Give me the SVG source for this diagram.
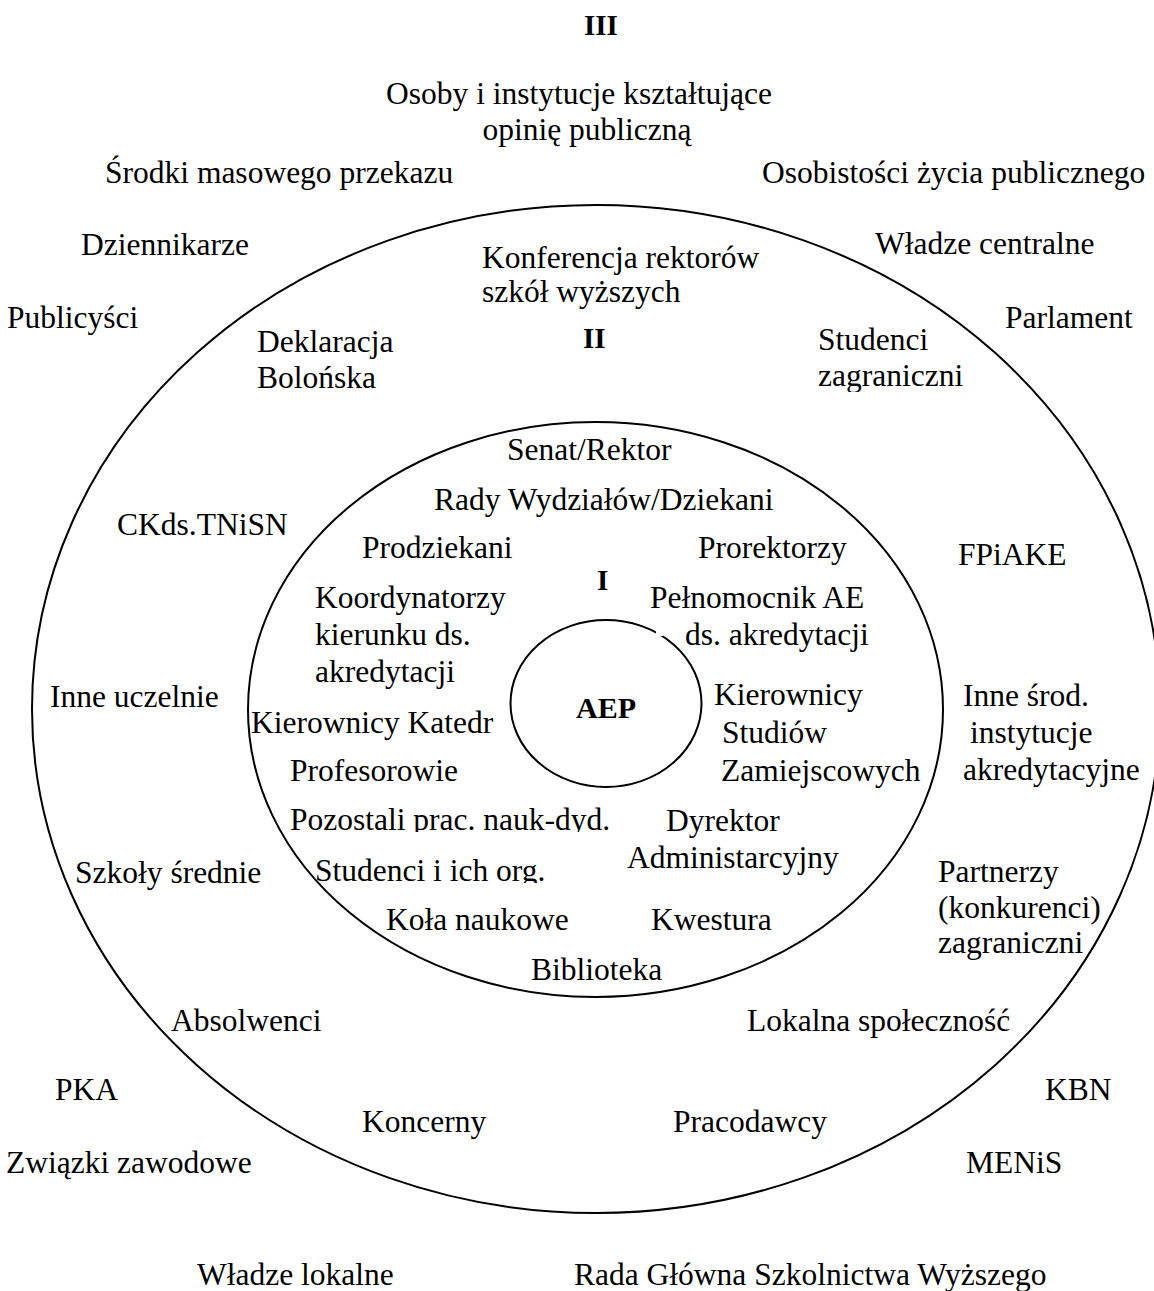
<svg xmlns="http://www.w3.org/2000/svg" width="1154" height="1291" viewBox="0 0 1154 1291">
<style>
  text { font-family: "Liberation Serif", "Times New Roman", serif; font-size: 31.5px; fill: #000; }
  .b { font-weight: bold; font-size: 29px; }
  .aep { font-weight: bold; font-size: 30px; }
  .ring { fill: none; stroke: #000; stroke-width: 2; }
</style>
<defs>
  <clipPath id="clipZag"><rect x="800" y="360" width="200" height="32"/></clipPath>
  <clipPath id="clipPoz"><rect x="280" y="800" width="350" height="32"/></clipPath>
  <clipPath id="clipStud"><rect x="300" y="850" width="260" height="33"/></clipPath>
</defs>
<rect width="1154" height="1291" fill="#fff"/>
<g id="rings">
  <ellipse class="ring" cx="596" cy="709" rx="564" ry="504"/>
  <ellipse class="ring" cx="595.5" cy="709.5" rx="347.5" ry="287.5"/>
  <ellipse class="ring" cx="606" cy="703.5" rx="95.5" ry="83.5"/>
  <rect x="656" y="627" width="7" height="9" fill="#fff"/>
</g>
<g id="connectors"></g>
<!-- Zone III -->
<g id="label-III"><text class="b" x="584" y="35">III</text></g>
<g id="osoby"><text x="579" y="104" text-anchor="middle">Osoby i instytucje kształtujące<tspan x="587" y="140">opinię publiczną</tspan></text></g>
<g id="srodki"><text x="105" y="183">Środki masowego przekazu</text></g>
<g id="osobistosci"><text x="762" y="183">Osobistości życia publicznego</text></g>
<g id="dziennikarze"><text x="81" y="255">Dziennikarze</text></g>
<g id="wladze-centralne"><text x="875" y="254">Władze centralne</text></g>
<g id="publicysci"><text x="7" y="328">Publicyści</text></g>
<g id="parlament"><text x="1005" y="328">Parlament</text></g>
<g id="pka"><text x="55" y="1100">PKA</text></g>
<g id="kbn"><text x="1045" y="1100">KBN</text></g>
<g id="zwiazki"><text x="6" y="1173">Związki zawodowe</text></g>
<g id="menis"><text x="966" y="1173">MENiS</text></g>
<g id="wladze-lokalne"><text x="197" y="1285">Władze lokalne</text></g>
<g id="rada-glowna"><text x="574" y="1285">Rada Główna Szkolnictwa Wyższego</text></g>
<!-- Zone II -->
<g id="konferencja"><text x="482" y="268">Konferencja rektorów<tspan x="482" y="302">szkół wyższych</tspan></text></g>
<g id="label-II"><text class="b" x="583" y="348">II</text></g>
<g id="deklaracja"><text x="257" y="352">Deklaracja<tspan x="257" y="388">Bolońska</tspan></text></g>
<g id="studenci-zagr"><text x="818" y="350">Studenci</text><text x="818" y="386" clip-path="url(#clipZag)">zagraniczni</text></g>
<g id="ckds"><text x="117" y="535">CKds.TNiSN</text></g>
<g id="fpiake"><text x="958" y="565">FPiAKE</text></g>
<g id="inne-uczelnie"><text x="50" y="707">Inne uczelnie</text></g>
<g id="inne-srod"><text x="963" y="706">Inne środ.<tspan x="970" y="743">instytucje</tspan><tspan x="963" y="780">akredytacyjne</tspan></text></g>
<g id="szkoly"><text x="75" y="883">Szkoły średnie</text></g>
<g id="partnerzy"><text x="938" y="882">Partnerzy<tspan x="938" y="918">(konkurenci)</tspan><tspan x="938" y="953">zagraniczni</tspan></text></g>
<g id="absolwenci"><text x="171" y="1031">Absolwenci</text></g>
<g id="lokalna"><text x="747" y="1031">Lokalna społeczność</text></g>
<g id="koncerny"><text x="362" y="1132">Koncerny</text></g>
<g id="pracodawcy"><text x="673" y="1132">Pracodawcy</text></g>
<!-- Zone I -->
<g id="senat"><text x="507" y="460">Senat/Rektor</text></g>
<g id="rady"><text x="434" y="510">Rady Wydziałów/Dziekani</text></g>
<g id="prodziekani"><text x="362" y="558">Prodziekani</text></g>
<g id="prorektorzy"><text x="698" y="558">Prorektorzy</text></g>
<g id="label-I"><text class="b" x="597" y="590">I</text></g>
<g id="koordynatorzy"><text x="315" y="608">Koordynatorzy<tspan x="315" y="645">kierunku ds.</tspan><tspan x="315" y="682">akredytacji</tspan></text></g>
<g id="pelnomocnik"><text x="650" y="608">Pełnomocnik AE<tspan x="685" y="645">ds. akredytacji</tspan></text></g>
<g id="kier-studiow"><text x="714" y="705">Kierownicy<tspan x="722" y="743">Studiów</tspan><tspan x="721" y="781">Zamiejscowych</tspan></text></g>
<g id="kier-katedr"><text x="251" y="733">Kierownicy Katedr</text></g>
<g id="profesorowie"><text x="290" y="781">Profesorowie</text></g>
<g id="pozostali"><text x="290" y="830" clip-path="url(#clipPoz)">Pozostali prac. nauk-dyd.</text></g>
<g id="dyrektor"><text x="666" y="831">Dyrektor<tspan x="627" y="868">Administarcyjny</tspan></text></g>
<g id="studenci-org"><text x="315" y="881" clip-path="url(#clipStud)">Studenci i ich org.</text></g>
<g id="kola"><text x="386" y="930">Koła naukowe</text></g>
<g id="kwestura"><text x="651" y="930">Kwestura</text></g>
<g id="biblioteka"><text x="531" y="980">Biblioteka</text></g>
<!-- Core -->
<g id="aep"><text class="aep" x="576" y="718">AEP</text></g>
</svg>
